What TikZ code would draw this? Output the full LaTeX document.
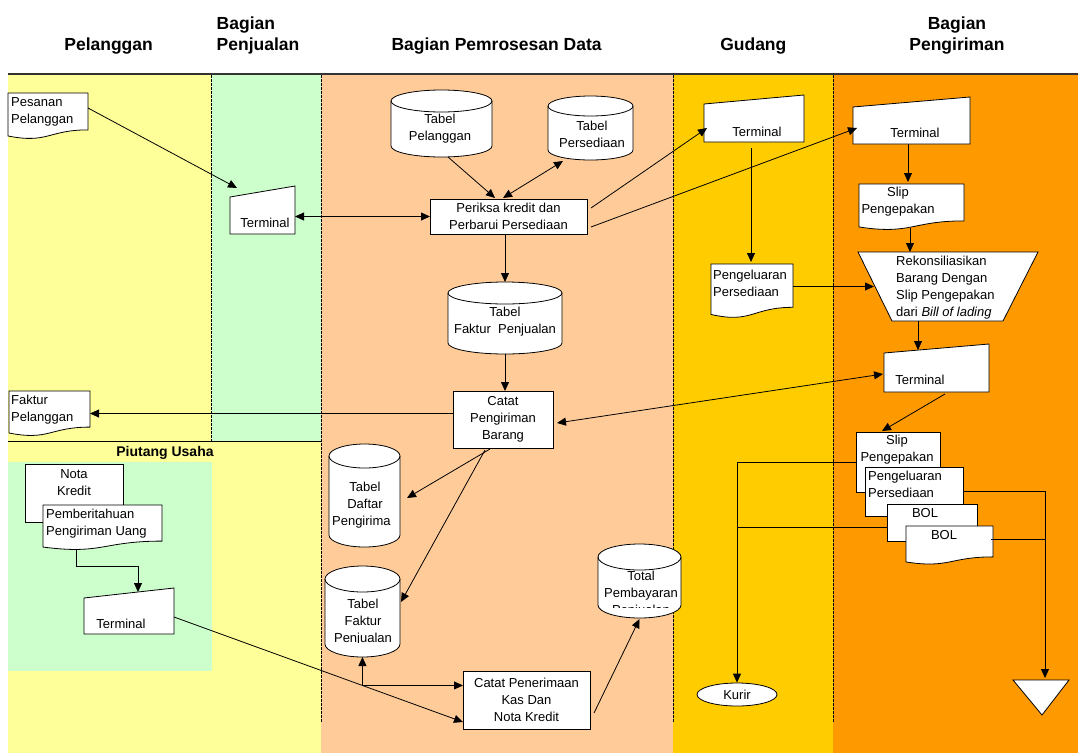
\documentclass[tikz,border=0pt]{standalone}
\usepackage{fontspec}
\setmainfont{Liberation Sans}
\usetikzlibrary{arrows.meta,calc,shapes.geometric}

\definecolor{laneYellow}{HTML}{FFFF99}
\definecolor{laneGreen}{HTML}{CCFFCC}
\definecolor{lanePeach}{HTML}{FFCC99}
\definecolor{laneGold}{HTML}{FFCC00}
\definecolor{laneOrange}{HTML}{FF9900}

\tikzset{
  shp/.style={draw=black, fill=white, line width=0.8pt},
  anchorbox/.style={inner sep=0pt, outer sep=0pt},
  rbox/.style={shp, inner sep=0pt, outer sep=0pt},
  txt/.style={inner sep=0pt, align=center, font=\fontsize{13}{17}\selectfont},
  ltxt/.style={txt, align=left, anchor=west},
  hdr/.style={inner sep=0pt, align=center, font=\bfseries\fontsize{17.5}{21}\selectfont},
  arr/.style={line width=0.8pt, -{Triangle[length=9pt,width=8pt]}},
  darr/.style={line width=0.8pt, {Triangle[length=9pt,width=8pt]}-{Triangle[length=9pt,width=8pt]}},
  link/.style={line width=0.8pt},
  lanesep/.style={line width=0.7pt, dash pattern=on 2.5pt off 1.5pt},
}

% document symbol with a wavy lower edge: name, x, y, width, height
\newcommand\docnode[5]{%
  \draw[shp] (#2,#3) -- ({#2+#4},#3) -- ({#2+#4},{#3+0.802*#5})
    .. controls ({#2+0.5*#4},{#3+0.802*#5}) and ({#2+0.5*#4},{#3+1.108*#5}) .. (#2,{#3+0.934*#5}) -- cycle;
  \node[anchorbox, minimum width=#4pt, minimum height=#5pt] (#1) at ({#2+#4/2},{#3+#5/2}) {};}

% manual input (terminal) symbol: name, x, y, width, height, slant of the top edge
\newcommand\termnode[6]{%
  \draw[shp] (#2,{#3+#6}) -- ({#2+#4},#3) -- ({#2+#4},{#3+#5}) -- (#2,{#3+#5}) -- cycle;
  \node[anchorbox, minimum width=#4pt, minimum height=#5pt] (#1) at ({#2+#4/2},{#3+#5/2}) {};}

% disk storage (cylinder): name, x, y, width, height, cap radius
\newcommand\cylnode[6]{%
  \pgfmathsetmacro\cylL{#2}\pgfmathsetmacro\cylR{#2+#4}\pgfmathsetmacro\cylC{#2+#4/2}%
  \pgfmathsetmacro\cylT{#3+#6}\pgfmathsetmacro\cylB{#3+#5-#6}%
  \pgfmathsetmacro\cylKx{0.5523*#4/2}\pgfmathsetmacro\cylKy{0.5523*#6}%
  \draw[shp] (\cylL,\cylT) -- (\cylL,\cylB)
    .. controls (\cylL,{\cylB+\cylKy}) and ({\cylC-\cylKx},{\cylB+#6}) .. (\cylC,{\cylB+#6})
    .. controls ({\cylC+\cylKx},{\cylB+#6}) and (\cylR,{\cylB+\cylKy}) .. (\cylR,\cylB)
    -- (\cylR,\cylT)
    .. controls (\cylR,{\cylT-\cylKy}) and ({\cylC+\cylKx},{\cylT-#6}) .. (\cylC,{\cylT-#6})
    .. controls ({\cylC-\cylKx},{\cylT-#6}) and (\cylL,{\cylT-\cylKy}) .. (\cylL,\cylT) -- cycle;
  \draw[shp, fill=none] (\cylL,\cylT)
    .. controls (\cylL,{\cylT+\cylKy}) and ({\cylC-\cylKx},{\cylT+#6}) .. (\cylC,{\cylT+#6})
    .. controls ({\cylC+\cylKx},{\cylT+#6}) and (\cylR,{\cylT+\cylKy}) .. (\cylR,\cylT);
  \node[anchorbox, minimum width=#4pt, minimum height=#5pt] (#1) at ({#2+#4/2},{#3+#5/2}) {};}

\begin{document}
\begin{tikzpicture}[x=1pt,y=-1pt]
\useasboundingbox (0,0) rectangle (1078,753);
\fill[white] (0,0) rectangle (1078,753);

% swimlanes
\fill[laneYellow] (8,75) rectangle (321,753);
\fill[laneGreen] (211,75) rectangle (321,441);
\fill[laneGreen] (8,462) rectangle (212,671);
\fill[lanePeach] (321,75) rectangle (673,753);
\fill[laneGold] (673,75) rectangle (833,753);
\fill[laneOrange] (833,75) rectangle (1078,753);
\draw[line width=1.6pt, black!80] (8,74) -- (1078,74);
\draw[link] (8,441) -- (321,441);
\draw[lanesep] (211,75) -- (211,441);
\draw[lanesep] (321,75) -- (321,723);
\draw[lanesep] (673,75) -- (673,723);
\draw[lanesep] (833,75) -- (833,723);

% lane titles
\node[hdr] (h-pel) at (108.6,46.5) {Pelanggan};
\node[hdr, align=left, anchor=west] (h-pjl) at (216.5,35.5) {Bagian\\Penjualan};
\node[hdr] (h-pds) at (496.6,46.5) {Bagian Pemrosesan Data};
\node[hdr] (h-gud) at (753.3,46.5) {Gudang};
\node[hdr] (h-krm) at (957,35.5) {Bagian\\Pengiriman};
\node[inner sep=0pt, font=\bfseries\fontsize{14}{17}\selectfont] (h-piu) at (165,453) {Piutang Usaha};

% Pelanggan
\docnode{pes}{8}{93}{80}{46}
\node[ltxt] (pes-t) at (11,111.5) {Pesanan\\Pelanggan};
\docnode{fp}{9}{391}{81}{45}
\node[ltxt] (fp-t) at (11,409.5) {Faktur\\Pelanggan};

% Piutang Usaha
\node[rbox, minimum width=98pt, minimum height=58pt] (nk) at (74,493) {};
\node[txt] (nk-t) at (74,483) {Nota\\Kredit};
\docnode{pu}{43}{505}{119}{45}
\node[ltxt] (pu-t) at (46,524) {Pemberitahuan\\Pengiriman Uang};
\termnode{t5}{84}{588}{90}{46}{10}
\node[txt] (t5-t) at (121,624) {Terminal};

% Bagian Penjualan
\termnode{t1}{230}{186}{65}{48}{11}
\node[txt] (t1-t) at (265,223) {Terminal};

% Bagian Pemrosesan Data
\cylnode{tp}{391}{90}{101}{67}{11}
\node[txt] (tp-t) at (440,128.5) {Tabel\\Pelanggan};
\cylnode{ps}{548}{96}{85}{64}{10}
\node[txt] (ps-t) at (592,134.5) {Tabel\\Persediaan};
\node[rbox, txt, minimum width=157pt, minimum height=35pt] (pk) at (508.5,216.5) {Periksa kredit dan\\Perbarui Persediaan};
\cylnode{tfp1}{448}{282}{114}{72}{11}
\node[txt] (tfp1-t) at (505,322) {Tabel\\Faktur~ Penjualan};
\node[rbox, txt, minimum width=100pt, minimum height=57pt] (cpb) at (503,419.5) {Catat\\Pengiriman\\Barang};
\cylnode{tdp}{329}{444}{71}{103}{12}
\begin{scope}
  \clip (329,456) rectangle (390.6,545);
  \node[txt] (tdp-t) at (365,505) {Tabel\\Daftar\\Pengiriman};
\end{scope}
\cylnode{tfp2}{325}{566}{75}{91}{13}
\begin{scope}
  \clip (325,579) rectangle (400,642.5);
  \node[txt] (tfp2-t) at (363,622) {Tabel\\Faktur\\Penjualan};
\end{scope}
\cylnode{tot}{598}{544}{83}{74}{13}
\begin{scope}
  \clip (598,557) rectangle (681,607.5);
  \node[txt] (tot-t) at (641,594.5) {Total\\Pembayaran\\Penjualan};
\end{scope}
\node[rbox, txt, minimum width=127pt, minimum height=58pt] (cpk) at (526.5,700) {Catat Penerimaan\\Kas Dan\\Nota Kredit};

% Gudang
\termnode{t2}{704}{95}{100}{47}{9}
\node[txt] (t2-t) at (757,132) {Terminal};
\docnode{pp}{711}{264}{82}{54}
\node[ltxt] (pp-t) at (713,283) {Pengeluaran\\Persediaan};
\node[shp, ellipse, inner sep=0pt, minimum width=80pt, minimum height=23pt, font=\fontsize{13}{17}\selectfont] (kurir) at (737,694.5) {Kurir};

% Bagian Pengiriman
\termnode{t3}{853}{97}{117}{47}{10}
\node[txt] (t3-t) at (915,133) {Terminal};
\docnode{sl}{859}{184}{105}{46}
\node[txt] (sl-t) at (898,202) {Slip\\Pengepakan};
\draw[shp] (858,252) -- (1038,252) -- (1003,321) -- (892,321) -- cycle;
\node[anchorbox, minimum width=180pt, minimum height=69pt] (rk) at (948,286.5) {};
\node[ltxt] (rk-t) at (896,288) {Rekonsiliasikan\\Barang Dengan\\Slip Pengepakan\\dari \textit{Bill of lading}};
\termnode{t4}{884}{344}{105}{48}{9}
\node[txt] (t4-t) at (920,380) {Terminal};
\node[rbox, minimum width=84pt, minimum height=60pt] (s2) at (898,462) {};
\node[txt] (s2-t) at (897,449.5) {Slip\\Pengepakan};
\node[rbox, minimum width=98pt, minimum height=49pt] (pe2) at (914,491.5) {};
\node[ltxt] (pe2-t) at (868,484.5) {Pengeluaran\\Persediaan};
\node[rbox, minimum width=90pt, minimum height=37pt] (b1) at (932,522.5) {};
\node[txt] (b1-t) at (925,513) {BOL};
\docnode{b2}{906}{526}{87}{38.5}
\node[txt] (b2-t) at (944,535) {BOL};
\draw[shp] (1013,680) -- (1069,680) -- (1042,715) -- cycle;
\node[anchorbox, minimum width=56pt, minimum height=35pt] (tri) at (1041,697.5) {};

% flows
\draw[arr] ($(pes.north east)+(0,15)$) -- ($(t1.north west)+(7,2)$);
\draw[darr] (t1.east |- pk.west) -- (pk.west);
\draw[arr] ($(tp.south)+(6.5,0)$) -- ($(pk.north)+(-13.5,-1)$);
\draw[darr] ($(pk.north)+(-5.5,-1)$) -- ($(ps.south)+(-27.5,1)$);
\draw[arr] ($(pk.north east)+(4,9)$) -- ($(t2.south west)+(3,-14)$);
\draw[arr] ($(pk.south east)+(4,-7)$) -- ($(t3.south west)+(4,-16)$);
\draw[arr] (tfp1.north |- pk.south) -- (tfp1.north);
\draw[arr] (tfp1.south) -- (tfp1.south |- cpb.north);
\draw[arr] (cpb.west |- fp.east) -- (fp.east);
\draw[darr] ($(t4.west)+(-1,6)$) -- ($(cpb.east)+(4,3.5)$);
\draw[arr] ($(cpb.south)+(-13,1)$) -- ($(tdp.east)+(7,2.5)$);
\draw[arr] ($(cpb.south)+(-18,2)$) -- ($(tfp2.east)+(1,-9.5)$);

\draw[arr] ($(pu.south west)+(33,-1)$) -- ++(0,17) -| ($(t5.north)+(9,4)$);
\coordinate (t5o) at ($(t5.east)+(0,6)$);
\coordinate (cpki) at ($(cpk.south west)+(0,-7)$);
\draw[arr] (t5o) -- (cpki);
\coordinate (jn) at ($(t5o)!0.652!(cpki)$);
\draw[arr] (jn) -- (jn |- tfp2.south);
\draw[arr] (jn) -- (jn -| cpk.west);
\draw[arr] ($(cpk.east)+(4,13)$) -- ($(tot.south)+(0,1)$);

\draw[arr] ($(t2.south)+(-3,6)$) -- ($(pp.north)+(-1,-2)$);
\draw[arr] (pp.east |- rk.west) -- ($(rk.west)+(16,0)$);

\draw[arr] ($(t3.south)+(-3.5,0)$) -- ($(sl.north)+(-3.5,-2)$);
\draw[arr] ($(sl.south)+(-1.5,-2)$) -- ($(sl.south |- rk.north)+(-1.5,0)$);
\draw[arr] ($(rk.south)+(-30,0)$) -- ($(t4.north)+(-18.5,6)$);
\draw[arr] ($(t4.south)+(8.5,2)$) -- ($(s2.north)+(-16,-1)$);

\draw[arr] (s2.west) -| (kurir.north);
\coordinate (b1l) at ($(b1.west)+(0,4.5)$);
\draw[link] (b1l) -- (b1l -| kurir.north);
\coordinate (trin) at ($(tri.north)+(4,-2)$);
\draw[arr] (pe2.east) -| (trin);
\coordinate (b2r) at ($(b2.east)+(-2,-5.5)$);
\draw[link] (b2r) -- (b2r -| trin);
\end{tikzpicture}
\end{document}
